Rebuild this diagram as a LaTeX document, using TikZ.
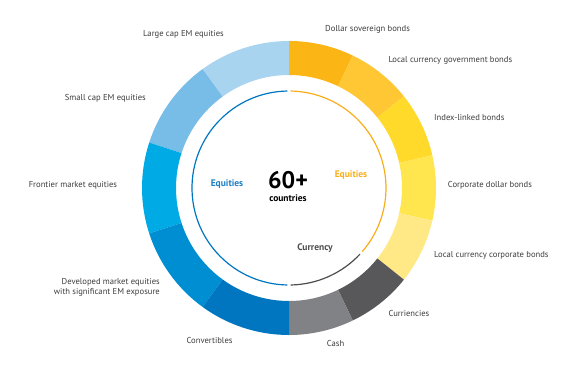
\documentclass[tikz,border=0pt]{standalone}
\usepackage{fontspec}
\setmainfont{PT Sans}
\usepackage{tikz}
\usepackage{xcolor}
\usetikzlibrary{positioning}
\definecolor{EM_LargeCap}{HTML}{A9D4F0}
\definecolor{EM_SmallCap}{HTML}{77BDE8}
\definecolor{EM_Frontier}{HTML}{00AAE5}
\definecolor{EM_Developed}{HTML}{008ED3}
\definecolor{EM_Convert}{HTML}{0076C0}
\definecolor{EM_DollarSov}{HTML}{FBB514}
\definecolor{EM_LocalGov}{HTML}{FEC733}
\definecolor{EM_IndexLinked}{HTML}{FFDA2A}
\definecolor{EM_CorpDollar}{HTML}{FFE54E}
\definecolor{EM_LocalCorp}{HTML}{FFE987}
\definecolor{EM_Currencies}{HTML}{58585A}
\definecolor{EM_Cash}{HTML}{818286}
\definecolor{EM_BlueText}{HTML}{1A7DC4}
\definecolor{EM_Orange}{HTML}{F7AE1A}
\definecolor{EM_Grey}{HTML}{4D4D4F}
\definecolor{EM_Label}{HTML}{3C3C3C}

\begin{document}
\begin{tikzpicture}[
    x=1pt, y=1pt,
    label/.style={inner sep=0pt, font=\fontsize{8.6}{10}\selectfont, text=EM_Label},
    group/.style={inner sep=0pt, font=\fontsize{9.5}{11}\selectfont\bfseries},
    thin ring/.style={line width=1.2pt}
]
\useasboundingbox (-289,-185) rectangle (291,188);
% outer ring, right half (seven parts)
\fill[EM_DollarSov] (90:147) arc[start angle=90, end angle=64.29, radius=147] -- (64.29:113) arc[start angle=64.29, end angle=90, radius=113] -- cycle;
\fill[EM_LocalGov] (64.29:147) arc[start angle=64.29, end angle=38.57, radius=147] -- (38.57:113) arc[start angle=38.57, end angle=64.29, radius=113] -- cycle;
\fill[EM_IndexLinked] (38.57:147) arc[start angle=38.57, end angle=12.86, radius=147] -- (12.86:113) arc[start angle=12.86, end angle=38.57, radius=113] -- cycle;
\fill[EM_CorpDollar] (12.86:147) arc[start angle=12.86, end angle=-12.86, radius=147] -- (-12.86:113) arc[start angle=-12.86, end angle=12.86, radius=113] -- cycle;
\fill[EM_LocalCorp] (-12.86:147) arc[start angle=-12.86, end angle=-38.57, radius=147] -- (-38.57:113) arc[start angle=-38.57, end angle=-12.86, radius=113] -- cycle;
\fill[EM_Currencies] (-38.57:147) arc[start angle=-38.57, end angle=-64.29, radius=147] -- (-64.29:113) arc[start angle=-64.29, end angle=-38.57, radius=113] -- cycle;
\fill[EM_Cash] (-64.29:147) arc[start angle=-64.29, end angle=-90, radius=147] -- (-90:113) arc[start angle=-90, end angle=-64.29, radius=113] -- cycle;
% outer ring, left half (five parts)
\fill[EM_LargeCap] (90:147) arc[start angle=90, end angle=126, radius=147] -- (126:113) arc[start angle=126, end angle=90, radius=113] -- cycle;
\fill[EM_SmallCap] (126:147) arc[start angle=126, end angle=162, radius=147] -- (162:113) arc[start angle=162, end angle=126, radius=113] -- cycle;
\fill[EM_Frontier] (162:147) arc[start angle=162, end angle=198, radius=147] -- (198:113) arc[start angle=198, end angle=162, radius=113] -- cycle;
\fill[EM_Developed] (198:147) arc[start angle=198, end angle=234, radius=147] -- (234:113) arc[start angle=234, end angle=198, radius=113] -- cycle;
\fill[EM_Convert] (234:147) arc[start angle=234, end angle=270, radius=147] -- (270:113) arc[start angle=270, end angle=234, radius=113] -- cycle;
% inner thin ring
\draw[thin ring, EM_Convert] (91:97) arc[start angle=91, end angle=269, radius=97];
\draw[thin ring, EM_Orange] (89:97) arc[start angle=89, end angle=-41, radius=97];
\draw[thin ring, EM_Grey] (-43:97) arc[start angle=-43, end angle=-89, radius=97];
% centre
\node[inner sep=0pt, font=\fontsize{24}{26}\selectfont\bfseries, text=black] (count) at (-1,8) {60+};
\node[group, text=black] (countries) at (-1,-10) {countries};
\node[group, text=EM_BlueText] (eqleft) at (-62,4) {Equities};
\node[group, text=EM_Orange] (eqright) at (62,13) {Equities};
\node[group, text=EM_Grey] (currency) at (26,-60) {Currency};
% labels, left
\node[label, anchor=east] (largecap) at (-65,153.7) {Large cap EM equities};
\node[label, anchor=east] (smallcap) at (-143,89.7) {Small cap EM equities};
\node[label, anchor=east] (frontier) at (-171.7,3) {Frontier market equities};
\node[label, anchor=east, align=right] (developed) at (-129,-99) {Developed market equities\\with significant EM exposure};
\node[label, anchor=east] (convertibles) at (-56.3,-152) {Convertibles};
% labels, right
\node[label, anchor=west] (dollarsov) at (36,158.7) {Dollar sovereign bonds};
\node[label, anchor=west] (localgov) at (99.3,127.3) {Local currency government bonds};
\node[label, anchor=west] (indexlinked) at (145,70.3) {Index-linked bonds};
\node[label, anchor=west] (corpdollar) at (158.7,2.3) {Corporate dollar bonds};
\node[label, anchor=west] (localcorp) at (145,-67.7) {Local currency corporate bonds};
\node[label, anchor=west] (curriencies) at (99.3,-125.3) {Curriencies};
\node[label, anchor=west] (cash) at (37.7,-155.3) {Cash};
\end{tikzpicture}
\end{document}
